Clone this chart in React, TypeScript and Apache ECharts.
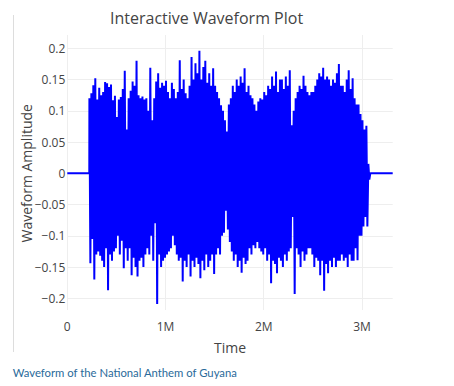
import { useEffect, useRef } from 'react';
import * as echarts from 'echarts';

const titleText = 'Interactive Waveform Plot';
const xAxisTitle = 'Time';
const yAxisTitle = 'Waveform Amplitude';
const captionText = 'Waveform of the National Anthem of Guyana';

// sample counts
const totalSamples = 3313000;
const soundStart = 224000;
const soundEnd = 3085000;
const binStart = 225000;
const binStep = 20000;

// peak amplitude per bin
const upperPeaks = [
  0.12, 0.128, 0.141, 0.152, 0.118, 0.137, 0.125, 0.13, 0.146, 0.144,
  0.138, 0.142, 0.117, 0.124, 0.09, 0.118, 0.122, 0.135, 0.164, 0.07,
  0.12, 0.132, 0.147, 0.14, 0.18, 0.125, 0.12, 0.123, 0.118, 0.12,
  0.1, 0.169, 0.085, 0.12, 0.147, 0.16, 0.137, 0.145, 0.14, 0.148,
  0.13, 0.12, 0.145, 0.135, 0.12, 0.13, 0.181, 0.135, 0.15, 0.128,
  0.12, 0.14, 0.186, 0.15, 0.176, 0.16, 0.196, 0.15, 0.17, 0.18,
  0.145, 0.16, 0.14, 0.168, 0.14, 0.13, 0.12, 0.109, 0.1, 0.085,
  0.067, 0.11, 0.12, 0.14, 0.13, 0.15, 0.14, 0.155, 0.145, 0.168,
  0.13, 0.14, 0.125, 0.12, 0.11, 0.1, 0.115, 0.12, 0.118, 0.13,
  0.125, 0.14, 0.135, 0.155, 0.14, 0.163, 0.13, 0.15, 0.15, 0.135,
  0.155, 0.14, 0.165, 0.077, 0.1, 0.12, 0.13, 0.14, 0.135, 0.156,
  0.14, 0.13, 0.125, 0.13, 0.13, 0.14, 0.15, 0.16, 0.155, 0.169,
  0.15, 0.155, 0.15, 0.14, 0.15, 0.145, 0.16, 0.175, 0.14, 0.14,
  0.13, 0.15, 0.165, 0.135, 0.152, 0.12, 0.11, 0.11, 0.095, 0.085,
  0.07, 0.076, 0.015,
];

const lowerPeaks = [
  -0.144, -0.105, -0.17, -0.13, -0.125, -0.132, -0.14, -0.15, -0.12, -0.187,
  -0.13, -0.14, -0.125, -0.12, -0.1, -0.13, -0.108, -0.152, -0.12, -0.14,
  -0.12, -0.163, -0.135, -0.15, -0.165, -0.14, -0.135, -0.15, -0.13, -0.12,
  -0.13, -0.1, -0.14, -0.08, -0.209, -0.13, -0.15, -0.14, -0.135, -0.13,
  -0.125, -0.12, -0.1, -0.115, -0.13, -0.14, -0.135, -0.173, -0.14, -0.15,
  -0.13, -0.165, -0.14, -0.15, -0.135, -0.145, -0.168, -0.14, -0.155, -0.13,
  -0.15, -0.14, -0.13, -0.161, -0.13, -0.12, -0.13, -0.1, -0.095, -0.06,
  -0.09, -0.11, -0.125, -0.14, -0.13, -0.15, -0.14, -0.159, -0.135, -0.145,
  -0.14, -0.12, -0.13, -0.115, -0.12, -0.11, -0.12, -0.125, -0.13, -0.12,
  -0.14, -0.13, -0.176, -0.14, -0.145, -0.16, -0.135, -0.14, -0.15, -0.13,
  -0.14, -0.125, -0.12, -0.07, -0.193, -0.12, -0.13, -0.15, -0.125, -0.14,
  -0.13, -0.12, -0.12, -0.13, -0.15, -0.135, -0.14, -0.163, -0.14, -0.188,
  -0.145, -0.16, -0.14, -0.15, -0.135, -0.15, -0.14, -0.14, -0.13, -0.14,
  -0.135, -0.15, -0.13, -0.14, -0.14, -0.12, -0.139, -0.1, -0.1, -0.085,
  -0.07, -0.085, -0.01,
];

const textColor = '#444';
const gridColor = '#eee';
const lineColor = '#0000ff';

function buildWaveform(): number[][] {
  const pts: number[][] = [[0, 0], [soundStart, 0]];
  upperPeaks.forEach((u, i) => {
    const t = binStart + i * binStep;
    pts.push([t, u]);
    pts.push([t + binStep / 2, lowerPeaks[i]]);
  });
  pts.push([soundEnd, 0], [totalSamples, 0]);
  return pts;
}

function fmtY(v: number): string {
  const r = Math.round(v * 100) / 100;
  if (r === 0) return '0';
  return (r < 0 ? '\u2212' : '') + String(Math.abs(r));
}

function fmtX(v: number): string {
  if (v === 0) return '0';
  return Math.round(v / 1e6) + 'M';
}

export default function App() {
  const ref = useRef<HTMLDivElement>(null);
  useEffect(() => {
    if (!ref.current) return;
    const chart = echarts.init(ref.current, undefined, { renderer: 'svg' });
    const gridLeft = 67.3;
    const gridRight = 454 - 392.7;
    chart.setOption({
      animation: false,
      backgroundColor: '#fff',
      title: {
        text: titleText,
        left: 110,
        top: 10,
        padding: 0,
        textStyle: { fontFamily: 'Open Sans', fontSize: 16, fontWeight: 'normal', color: textColor },
      },
      grid: [
        { left: gridLeft, right: gridRight, top: 35, height: 275 },
        { left: gridLeft, right: gridRight, top: 48.3, height: 250 },
      ],
      xAxis: [
        {
          gridIndex: 0,
          type: 'value',
          min: 0,
          max: totalSamples,
          interval: 1000000,
          axisLine: { show: false },
          axisTick: { show: false },
          splitLine: { show: true, showMaxLine: false, lineStyle: { color: gridColor, width: 1 } },
          axisLabel: {
            formatter: fmtX,
            color: textColor,
            fontFamily: 'Open Sans',
            fontSize: 12,
            margin: 10,
            showMaxLabel: false,
          },
          name: xAxisTitle,
          nameLocation: 'middle',
          nameGap: 30,
          nameMoveOverlap: false,
          nameTextStyle: { fontFamily: 'Open Sans', fontSize: 14, color: textColor },
        },
        { gridIndex: 1, type: 'value', min: 0, max: totalSamples, show: false },
      ],
      yAxis: [
        { gridIndex: 0, type: 'value', min: -0.2187, max: 0.2213, show: false },
        {
          gridIndex: 1,
          type: 'value',
          min: -0.2,
          max: 0.2,
          interval: 0.05,
          axisLine: { show: false },
          axisTick: { show: false },
          splitLine: { show: true, lineStyle: { color: gridColor, width: 1 } },
          axisLabel: {
            formatter: fmtY,
            color: textColor,
            fontFamily: 'Open Sans',
            fontSize: 12,
            margin: 2,
          },
          name: yAxisTitle,
          nameLocation: 'middle',
          nameRotate: 90,
          nameGap: 34,
          nameMoveOverlap: false,
          nameTextStyle: { fontFamily: 'Open Sans', fontSize: 14, color: textColor },
        },
      ],
      graphic: [
        {
          type: 'line',
          shape: { x1: 13.5, y1: 15, x2: 13.5, y2: 352 },
          style: { stroke: '#ddd', lineWidth: 1 },
        },
        {
          type: 'text',
          x: 12.7,
          y: 372,
          style: {
            text: captionText,
            fontFamily: 'Lato',
            fontSize: 11.3,
            fill: '#2a6a9a',
            verticalAlign: 'middle',
          },
        },
      ],
      series: [
        {
          type: 'line',
          xAxisIndex: 0,
          yAxisIndex: 0,
          data: buildWaveform(),
          showSymbol: false,
          symbol: 'none',
          lineStyle: { color: lineColor, width: 2 },
          itemStyle: { color: lineColor },
          silent: true,
        },
      ],
    });
    return () => chart.dispose();
  }, []);
  return (
    <div
      ref={ref}
      style={{ position: 'absolute', left: 0, top: 0, width: 454, height: 386 }}
    />
  );
}
